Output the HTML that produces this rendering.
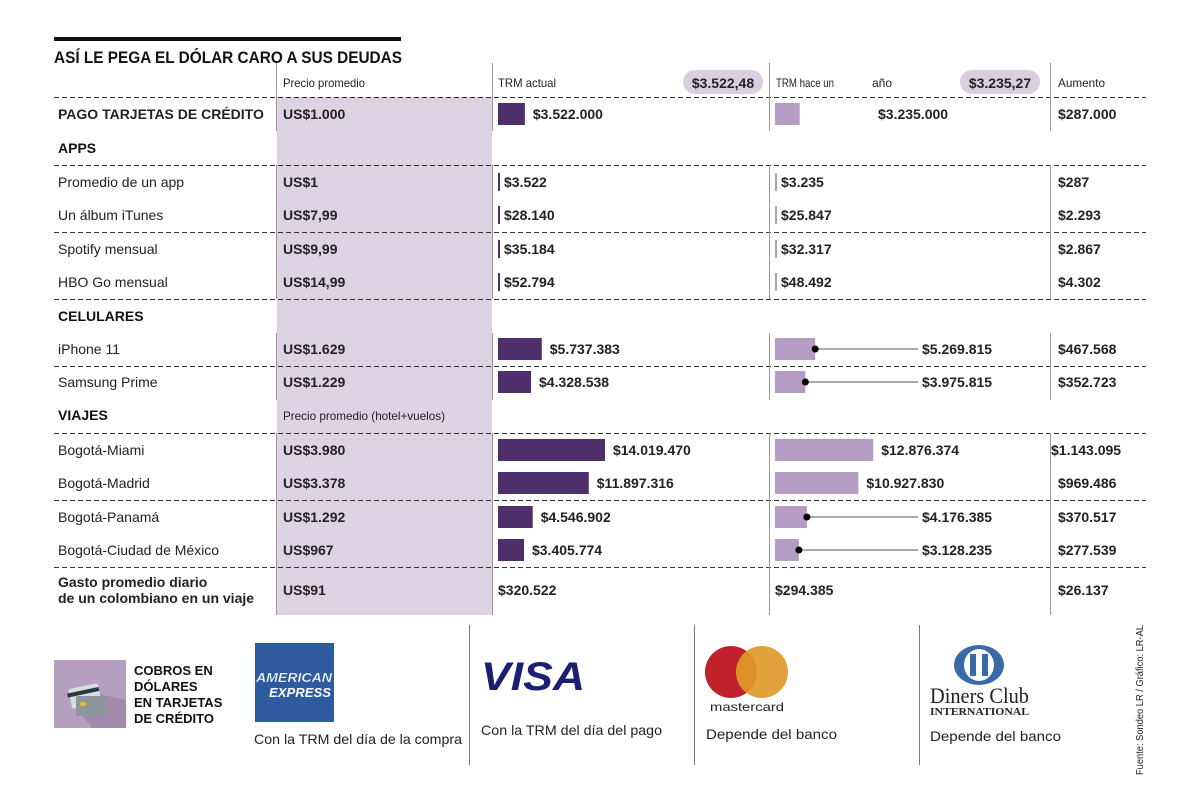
<!DOCTYPE html>
<html><head><meta charset="utf-8"><style>
html,body{margin:0;padding:0;background:#fff;}
svg{display:block;font-family:"Liberation Sans",sans-serif;}
</style></head><body>
<svg id="chart" width="1200" height="812" viewBox="0 0 1200 812" xmlns="http://www.w3.org/2000/svg">
<rect x="0" y="0" width="1200" height="812" fill="#fff"/>
<rect x="54" y="37" width="347" height="4" fill="#111"/>
<text x="54" y="63" font-size="17" font-weight="bold" fill="#111" textLength="348" lengthAdjust="spacingAndGlyphs">ASÍ LE PEGA EL DÓLAR CARO A SUS DEUDAS</text>
<rect x="277" y="97" width="215" height="518" fill="#ddd3e3"/>
<g id="grid"></g>
<g font-size="12" fill="#222">
<text x="283" y="87" textLength="82" lengthAdjust="spacingAndGlyphs">Precio promedio</text>
<text x="498" y="87" textLength="58" lengthAdjust="spacingAndGlyphs">TRM actual</text>
<rect x="683" y="70" width="80" height="24" rx="12" fill="#d9cfe0"/>
<text x="723" y="88" font-size="14" font-weight="bold" text-anchor="middle">$3.522,48</text>
<text x="776" y="87" textLength="58" lengthAdjust="spacingAndGlyphs">TRM hace un</text>
<text x="872" y="87">año</text>
<rect x="960" y="70" width="80" height="24" rx="12" fill="#d9cfe0"/>
<text x="1000" y="88" font-size="14" font-weight="bold" text-anchor="middle">$3.235,27</text>
<text x="1058" y="87" textLength="47" lengthAdjust="spacingAndGlyphs">Aumento</text>
<text x="283" y="420" textLength="162" lengthAdjust="spacingAndGlyphs">Precio promedio (hotel+vuelos)</text>
</g>
<g id="rows"></g>
<g>
<rect x="54" y="660" width="72" height="68" fill="#b59fc0"/>
<polygon points="80,690 126,700 126,728 92,728 70,700" fill="#a18aad"/>
<rect x="70" y="686" width="30" height="20" rx="2" fill="#d8dde0" transform="rotate(-12 85 696)"/>
<rect x="68" y="690" width="32" height="4" fill="#2b3540" transform="rotate(-12 85 696)"/>
<rect x="76" y="696" width="30" height="20" rx="2" fill="#8c969c"/>
<rect x="80" y="702" width="6" height="4" fill="#e8b830"/>
<text font-size="13" font-weight="bold" fill="#111">
<tspan x="134" y="675">COBROS EN</tspan><tspan x="134" y="691">DÓLARES</tspan><tspan x="134" y="707">EN TARJETAS</tspan><tspan x="134" y="723">DE CRÉDITO</tspan></text>
<rect x="255" y="643" width="79" height="79" fill="#2e5aa0"/>
<text x="294" y="682" font-size="13" font-weight="bold" fill="#fff" stroke="#2e5aa0" stroke-width="0.3" text-anchor="middle" textLength="76" lengthAdjust="spacingAndGlyphs" font-style="italic">AMERICAN</text>
<text x="300" y="697" font-size="13" font-weight="bold" fill="#fff" text-anchor="middle" textLength="62" lengthAdjust="spacingAndGlyphs" font-style="italic">EXPRESS</text>
<text x="254" y="744" font-size="14" fill="#222" textLength="208" lengthAdjust="spacingAndGlyphs">Con la TRM del día de la compra</text>
<line x1="469.5" y1="625" x2="469.5" y2="765" stroke="#777" stroke-width="1"/>
<text x="481" y="690" font-size="40" font-weight="bold" font-style="italic" fill="#1a1f71" textLength="104" lengthAdjust="spacingAndGlyphs">VISA</text>
<text x="481" y="735" font-size="14" fill="#222" textLength="181" lengthAdjust="spacingAndGlyphs">Con la TRM del día del pago</text>
<line x1="694.5" y1="625" x2="694.5" y2="765" stroke="#777" stroke-width="1"/>
<circle cx="731" cy="672" r="26" fill="#c0212b"/>
<circle cx="762" cy="672" r="26" fill="#e09a2a" fill-opacity="0.92"/>
<text x="747" y="711" font-size="12" fill="#222" text-anchor="middle" textLength="74" lengthAdjust="spacingAndGlyphs">mastercard</text>
<text x="706" y="739" font-size="14" fill="#222" textLength="131" lengthAdjust="spacingAndGlyphs">Depende del banco</text>
<line x1="919.5" y1="625" x2="919.5" y2="765" stroke="#777" stroke-width="1"/>
<ellipse cx="979" cy="665" rx="25" ry="20" fill="#3a6aa8"/>
<ellipse cx="979" cy="665" rx="15" ry="16" fill="#fff"/>
<rect x="970" y="654" width="6" height="22" fill="#3a6aa8"/>
<rect x="982" y="654" width="6" height="22" fill="#3a6aa8"/>
<text x="930" y="703" font-family="Liberation Serif,serif" font-size="22" fill="#222" textLength="99" lengthAdjust="spacingAndGlyphs">Diners Club</text>
<text x="930" y="715" font-family="Liberation Serif,serif" font-size="10" font-weight="bold" fill="#222" textLength="99" lengthAdjust="spacingAndGlyphs">INTERNATIONAL</text>
<text x="930" y="741" font-size="14" fill="#222" textLength="131" lengthAdjust="spacingAndGlyphs">Depende del banco</text>
<text transform="translate(1143,775) rotate(-90)" font-size="10" fill="#222" textLength="150" lengthAdjust="spacingAndGlyphs">Fuente: Sondeo LR / Gráfico: LR-AL</text>
</g>
</svg>
<script>
const labels = ["PAGO TARJETAS DE CRÉDITO","Promedio de un app","Un álbum iTunes","Spotify mensual","HBO Go mensual","iPhone 11","Samsung Prime","Bogotá-Miami","Bogotá-Madrid","Bogotá-Panamá","Bogotá-Ciudad de México","Gasto promedio diario|de un colombiano en un viaje"];
const usdPrices = ["US$1.000","US$1","US$7,99","US$9,99","US$14,99","US$1.629","US$1.229","US$3.980","US$3.378","US$1.292","US$967","US$91"];
const trmActual = [3522000,3522,28140,35184,52794,5737383,4328538,14019470,11897316,4546902,3405774,320522];
const trmPrev = [3235000,3235,25847,32317,48492,5269815,3975815,12876374,10927830,4176385,3128235,294385];
const aumento = [287000,287,2293,2867,4302,467568,352723,1143095,969486,370517,277539,26137];
const sections = ["APPS","CELULARES","VIAJES"];

const NS="http://www.w3.org/2000/svg";
const rowsG=document.getElementById('rows'), gridG=document.getElementById('grid');
function mk(tag,attrs,parent,txt){const e=document.createElementNS(NS,tag);for(const k in attrs)e.setAttribute(k,attrs[k]);if(txt!==undefined)e.textContent=txt;parent.appendChild(e);return e;}
function fmt(n){return '$'+String(n).replace(/\B(?=(\d{3})+(?!\d))/g,'.');}
const xScale=v=>v*7.63e-6;
// layout
const rowY=[114,182,215,249,282,349,382,450,483,517,550,590];
const secY=[148,316,415];
const boldRow=[true,false,false,false,false,false,false,false,false,false,false,true];
const connector=[false,false,false,false,false,true,true,false,false,true,true,false];

// grid
[97,165,232,299,366,433,500,567].forEach(y=>{
  const l=mk('line',{x1:54,x2:1146,y1:y+.5,y2:y+.5,stroke:'#333','stroke-width':1,'stroke-dasharray':'5,3'},gridG);
  
  
});
[[63,131],[165,299],[333,400],[433,615]].forEach(([a,b])=>{
  [276,492,769,1050].forEach(x=>{
    const top=(x===276&&a===63)?63:a;
    const l=mk('line',{x1:x+.5,x2:x+.5,y1:top,y2:b,stroke:'#999','stroke-width':1},gridG);
    
    
  });
});

sections.forEach((s,i)=>{
  const t=mk('text',{x:58,y:secY[i]+5,'font-size':14,'font-weight':'bold',fill:'#111'},rowsG,s);
  
  
});

labels.forEach((lab,i)=>{
  const y=rowY[i];
  const g=mk('g',{},rowsG);
  
  
  const parts=lab.split('|');
  const t=mk('text',{x:58,'font-size':14,fill:'#222','font-weight':boldRow[i]?'bold':'normal'},g);
  
  
  if(parts.length===1){t.setAttribute('y',y+5);t.textContent=lab;}
  else parts.forEach((p,k)=>mk('tspan',{x:58,y:y-3+k*16},t,p));
  const u=mk('text',{x:283,y:y+5,'font-size':14,'font-weight':'bold',fill:'#222'},g,usdPrices[i]);
  
  
  const last=(i===labels.length-1);
  // current
  let w=Math.max(2,xScale(trmActual[i]));
  let lx=498;
  if(!last){
    const bh=w<4?18:22;
    const b=mk('rect',{x:498,y:y-bh/2,width:w,height:bh,fill:'#4e2e6b'},g);
    
    
    lx=498+w+(w<4?4:8);
  }
  const a=mk('text',{x:lx,y:y+5,'font-size':14,'font-weight':'bold',fill:'#222'},g,fmt(trmActual[i]));
  
  
  // previous
  let w2=Math.max(2,xScale(trmPrev[i]));
  let lx2=775;
  if(!last){
    const bh=w2<4?18:22;
    const b=mk('rect',{x:775,y:y-bh/2,width:w2,height:bh,fill:'#b59cc2'},g);
    
    
    lx2=775+w2+(w2<4?4:8);
    if(connector[i]){
      const ex=775+w2;
      const ln=mk('line',{x1:ex,x2:918,y1:y,y2:y,stroke:'#555','stroke-width':1},g);
      
      
      const c=mk('circle',{cx:ex,cy:y,r:3.5,fill:'#000'},g);
      
      
      lx2=922;
    }
    if(i===0) lx2=878;
  }
  const p=mk('text',{x:lx2,y:y+5,'font-size':14,'font-weight':'bold',fill:'#222'},g,fmt(trmPrev[i]));
  
  
  const ax=aumento[i]>=1000000?1051:1058;
  const au=mk('text',{x:ax,y:y+5,'font-size':14,'font-weight':'bold',fill:'#222'},g,fmt(aumento[i]));
  
  
});
</script>
</body></html>
